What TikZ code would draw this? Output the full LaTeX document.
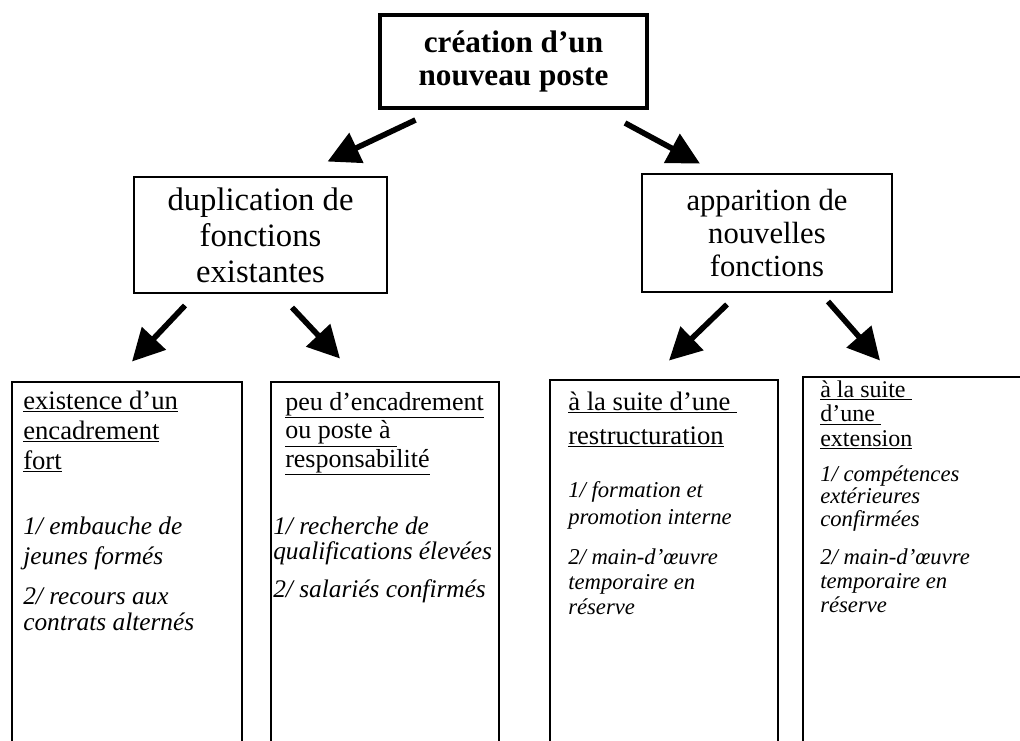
\documentclass[tikz,border=0pt]{standalone}
\usepackage{fontspec}
\setmainfont{Liberation Serif}
\usetikzlibrary{arrows.meta,calc}
\newcommand\mkblk[3]{\parbox[t]{250pt}{\fontsize{#1}{#2}\selectfont\lineskiplimit=-100pt #3}}
\begin{document}
\begin{tikzpicture}[x=0.75pt,y=-0.75pt,
  box/.style={draw, line width=2.2pt, inner sep=0pt, align=center},
  arr/.style={line width=4.2pt, -{Triangle[length=24pt,width=24pt]}},
  txt/.style={anchor=base west, inner sep=0pt}]
\useasboundingbox[fill=white] (0,0) rectangle (1020,740);

% top
\node[box, line width=3pt, minimum width=200.25pt, minimum height=69.75pt,
  font=\fontsize{23.4}{25}\selectfont\bfseries] (top) at (513.5,61.5) {création d'un\\nouveau poste};

% middle
\node[box, minimum width=189.75pt, minimum height=87pt,
  font=\fontsize{24.5}{27}\selectfont] (dup) at (260.5,235) {duplication de\\fonctions\\existantes};
\node[box, minimum width=187.5pt, minimum height=88.5pt,
  font=\fontsize{23}{25}\selectfont] (app) at (767,233) {apparition de\\nouvelles\\fonctions};

% bottom boxes
\node[box, minimum width=172.5pt, minimum height=283.5pt] (b1) at (127,571) {};
\node[box, minimum width=171pt, minimum height=283.5pt] (b2) at (385,571) {};
\node[box, minimum width=171pt, minimum height=285pt] (b3) at (664,570) {};
\node[box, minimum width=177.75pt, minimum height=287.25pt] (b4) at (921.5,568.5) {};

% arrows
\draw[arr] ($(top.south)+(-98,10)$) -- ($(dup.north)+(67,-14)$);
\draw[arr] ($(top.south)+(111.5,13)$) -- ($(app.north)+(-67,-9)$);
\draw[arr] ($(dup.south)+(-75.5,11)$) -- ($(b1.north)+(5,-19)$);
\draw[arr] ($(dup.south)+(31.5,13)$) -- ($(b2.north)+(-45,-22)$);
\draw[arr] ($(app.south)+(-40,11)$) -- ($(b3.north)+(5,-18)$);
\draw[arr] ($(app.south)+(61,8)$) -- ($(b4.north)+(-41.5,-15)$);

% box 1 text
\node[txt] (t1a) at (23,409) {\mkblk{20}{22.5pt}{\underline{existence d'un}\\\underline{encadrement}\\\underline{fort}}};
\node[txt] (t1b) at (23,534) {\mkblk{19}{22.5pt}{\itshape 1/ embauche de\\jeunes formés}};
\node[txt] (t1c) at (23,604) {\mkblk{19}{19.5pt}{\itshape 2/ recours aux\\contrats alternés}};

% box 2 text
\node[txt] (t2a) at (285,410) {\mkblk{19.5}{21.4pt}{\underline{peu d'encadrement}\\\underline{ou poste à~}\\\underline{responsabilité}}};
\node[txt] (t2b) at (273,534) {\mkblk{19}{19pt}{\itshape 1/ recherche de\\qualifications élevées}};
\node[txt] (t2c) at (273,597) {\mkblk{19}{20pt}{\itshape 2/ salariés confirmés}};

% box 3 text
\node[txt] (t3a) at (568,410) {\mkblk{20}{25.5pt}{\underline{à la suite d'une~}\\\underline{restructuration}}};
\node[txt] (t3b) at (568,497) {\mkblk{17}{20.25pt}{\itshape 1/ formation et\\promotion interne}};
\node[txt] (t3c) at (568,564) {\mkblk{17}{18.75pt}{\itshape 2/ main-d'œuvre\\temporaire en\\réserve}};

% box 4 text
\node[txt] (t4a) at (820,397) {\mkblk{18}{18.5pt}{\underline{à la suite~}\\\underline{d'une~}\\\underline{extension}}};
\node[txt] (t4b) at (820,481) {\mkblk{17}{17pt}{\itshape 1/ compétences\\extérieures\\confirmées}};
\node[txt] (t4c) at (820,564) {\mkblk{17}{18pt}{\itshape 2/ main-d'œuvre\\temporaire en\\réserve}};
\end{tikzpicture}
\end{document}
